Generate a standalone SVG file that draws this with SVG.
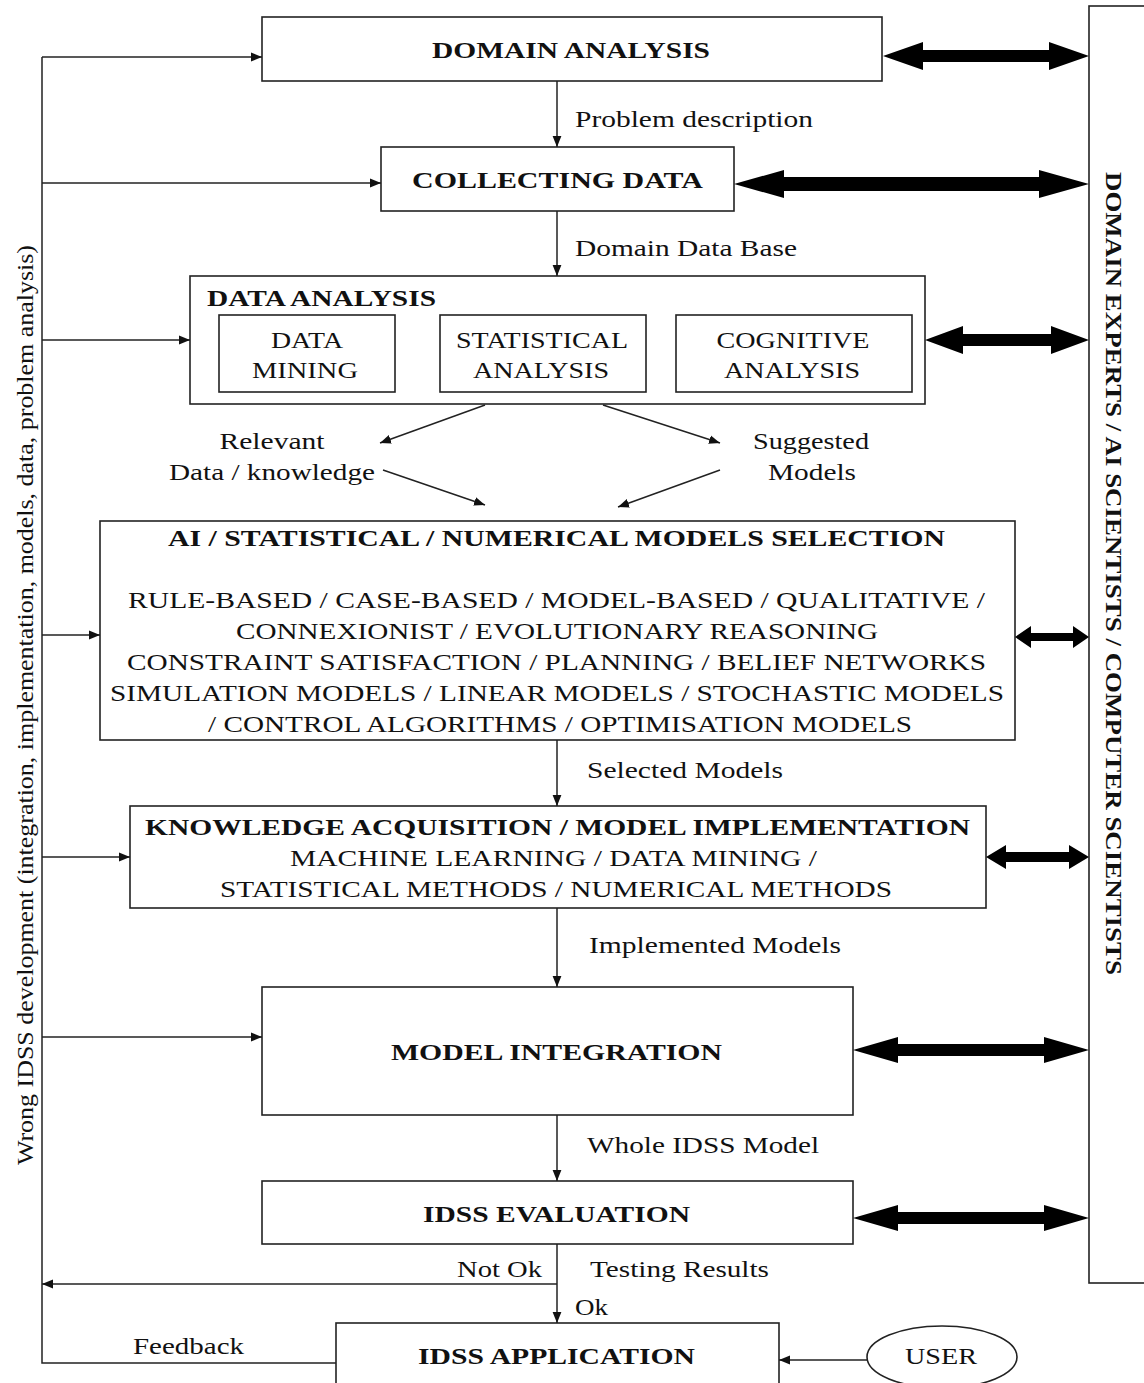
<svg xmlns="http://www.w3.org/2000/svg" width="1144" height="1383" viewBox="0 0 1144 1383">
<style>
.box{fill:#fff;stroke:#222;stroke-width:1.6}
.ln{fill:none;stroke:#222;stroke-width:1.5}
.thick{fill:#000;stroke:none}
.t{font-family:"Liberation Serif","Times New Roman",serif;font-size:24px;fill:#111}
.b{font-weight:bold}
.m{text-anchor:middle}
</style>
<defs>
<marker id="ah" viewBox="0 0 10 10" refX="10" refY="5" markerWidth="11" markerHeight="11" markerUnits="userSpaceOnUse" orient="auto">
<path d="M0,1 L10,5 L0,9 z" fill="#111"/>
</marker>
</defs>
<rect width="1144" height="1383" fill="#fff"/>

<g id="experts">
<rect class="box" x="1089" y="6" width="80" height="1277"/>
<text class="t b" transform="translate(1106,172) rotate(90)" textLength="803" lengthAdjust="spacingAndGlyphs">DOMAIN  EXPERTS  /  AI SCIENTISTS  /  COMPUTER  SCIENTISTS</text>
</g>

<g id="wrong-label">
<text class="t" transform="translate(33,1165) rotate(-90)" textLength="920" lengthAdjust="spacingAndGlyphs">Wrong IDSS development (integration, implementation, models, data, problem analysis)</text>
</g>

<g id="domain-analysis">
<rect class="box" x="262" y="17" width="620" height="64"/>
<text class="t b" x="432" y="58" textLength="278" lengthAdjust="spacingAndGlyphs">DOMAIN  ANALYSIS</text>
</g>

<g id="collecting-data">
<rect class="box" x="381" y="147" width="353" height="64"/>
<text class="t b" x="412" y="188" textLength="291" lengthAdjust="spacingAndGlyphs">COLLECTING  DATA</text>
</g>

<g id="data-analysis">
<rect class="box" x="190" y="276" width="735" height="128"/>
<text class="t b" x="207" y="306" textLength="229" lengthAdjust="spacingAndGlyphs">DATA ANALYSIS</text>
<rect class="box" x="219" y="315" width="176" height="77"/>
<text class="t m" x="307" y="348" textLength="72" lengthAdjust="spacingAndGlyphs">DATA</text>
<text class="t m" x="305" y="378" textLength="106" lengthAdjust="spacingAndGlyphs">MINING</text>
<rect class="box" x="440" y="315" width="206" height="77"/>
<text class="t m" x="542" y="348" textLength="172" lengthAdjust="spacingAndGlyphs">STATISTICAL</text>
<text class="t m" x="541" y="378" textLength="136" lengthAdjust="spacingAndGlyphs">ANALYSIS</text>
<rect class="box" x="676" y="315" width="236" height="77"/>
<text class="t m" x="793" y="348" textLength="153" lengthAdjust="spacingAndGlyphs">COGNITIVE</text>
<text class="t m" x="792" y="378" textLength="136" lengthAdjust="spacingAndGlyphs">ANALYSIS</text>
</g>

<g id="models-selection">
<rect class="box" x="100" y="521" width="915" height="219"/>
<text class="t b" x="168" y="546" textLength="777" lengthAdjust="spacingAndGlyphs">AI / STATISTICAL / NUMERICAL  MODELS  SELECTION</text>
<text class="t" x="128" y="608" textLength="857" lengthAdjust="spacingAndGlyphs">RULE-BASED  / CASE-BASED / MODEL-BASED / QUALITATIVE  /</text>
<text class="t" x="236" y="639" textLength="642" lengthAdjust="spacingAndGlyphs">CONNEXIONIST  / EVOLUTIONARY  REASONING</text>
<text class="t" x="127" y="670" textLength="859" lengthAdjust="spacingAndGlyphs">CONSTRAINT  SATISFACTION  / PLANNING  / BELIEF  NETWORKS</text>
<text class="t" x="110" y="701" textLength="894" lengthAdjust="spacingAndGlyphs">SIMULATION  MODELS  / LINEAR  MODELS  / STOCHASTIC MODELS</text>
<text class="t" x="208" y="732" textLength="704" lengthAdjust="spacingAndGlyphs">/ CONTROL ALGORITHMS  / OPTIMISATION  MODELS</text>
</g>

<g id="knowledge-acquisition">
<rect class="box" x="130" y="806" width="856" height="102"/>
<text class="t b" x="145" y="835" textLength="825" lengthAdjust="spacingAndGlyphs">KNOWLEDGE  ACQUISITION  / MODEL  IMPLEMENTATION</text>
<text class="t" x="290" y="866" textLength="527" lengthAdjust="spacingAndGlyphs">MACHINE  LEARNING  / DATA MINING  /</text>
<text class="t" x="220" y="897" textLength="672" lengthAdjust="spacingAndGlyphs">STATISTICAL  METHODS  / NUMERICAL  METHODS</text>
</g>

<g id="model-integration">
<rect class="box" x="262" y="987" width="591" height="128"/>
<text class="t b" x="391" y="1060" textLength="331" lengthAdjust="spacingAndGlyphs">MODEL  INTEGRATION</text>
</g>

<g id="idss-evaluation">
<rect class="box" x="262" y="1181" width="591" height="63"/>
<text class="t b" x="423" y="1222" textLength="267" lengthAdjust="spacingAndGlyphs">IDSS  EVALUATION</text>
</g>

<g id="idss-application">
<rect class="box" x="336" y="1323" width="443" height="70"/>
<text class="t b" x="418" y="1364" textLength="277" lengthAdjust="spacingAndGlyphs">IDSS  APPLICATION</text>
</g>

<g id="user">
<ellipse class="box" cx="942" cy="1357" rx="75" ry="31"/>
<text class="t m" x="941" y="1364" textLength="72" lengthAdjust="spacingAndGlyphs">USER</text>
</g>

<g id="connectors">
<path class="ln" d="M557,81 V147" marker-end="url(#ah)"/>
<path class="ln" d="M557,211 V276" marker-end="url(#ah)"/>
<path class="ln" d="M485,405 L380,443" marker-end="url(#ah)"/>
<path class="ln" d="M603,405 L720,443" marker-end="url(#ah)"/>
<path class="ln" d="M383,470 L485,505" marker-end="url(#ah)"/>
<path class="ln" d="M720,470 L618,507" marker-end="url(#ah)"/>
<path class="ln" d="M557,740 V806" marker-end="url(#ah)"/>
<path class="ln" d="M557,908 V987" marker-end="url(#ah)"/>
<path class="ln" d="M557,1115 V1181" marker-end="url(#ah)"/>
<path class="ln" d="M557,1244 V1323" marker-end="url(#ah)"/>
<path class="ln" d="M557,1284 H42" marker-end="url(#ah)"/>
<path class="ln" d="M336,1363 H42 V57"/>
<path class="ln" d="M42,57 H262" marker-end="url(#ah)"/>
<path class="ln" d="M42,183 H381" marker-end="url(#ah)"/>
<path class="ln" d="M42,340 H190" marker-end="url(#ah)"/>
<path class="ln" d="M42,635 H100" marker-end="url(#ah)"/>
<path class="ln" d="M42,857 H130" marker-end="url(#ah)"/>
<path class="ln" d="M42,1037 H262" marker-end="url(#ah)"/>
<path class="ln" d="M867,1360 H779" marker-end="url(#ah)"/>

<polygon class="thick" points="883,56 923,42 923,50 1049,50 1049,42 1089,56 1049,70 1049,62 923,62 923,70"/>
<polygon class="thick" points="734,184 784,170 784,177 1039,177 1039,170 1089,184 1039,198 1039,191 784,191 784,198"/>
<polygon class="thick" points="925,340 963,326 963,334 1051,334 1051,326 1089,340 1051,354 1051,346 963,346 963,354"/>
<polygon class="thick" points="1015,637 1031,626 1031,633 1073,633 1073,626 1089,637 1073,648 1073,641 1031,641 1031,648"/>
<polygon class="thick" points="986,857 1006,845 1006,852 1069,852 1069,845 1089,857 1069,869 1069,862 1006,862 1006,869"/>
<polygon class="thick" points="853,1050 898,1037 898,1044 1044,1044 1044,1037 1089,1050 1044,1063 1044,1056 898,1056 898,1063"/>
<polygon class="thick" points="853,1218 898,1205 898,1212 1044,1212 1044,1205 1089,1218 1044,1231 1044,1224 898,1224 898,1231"/>

<text class="t" x="575" y="127" textLength="238" lengthAdjust="spacingAndGlyphs">Problem description</text>
<text class="t" x="575" y="256" textLength="222" lengthAdjust="spacingAndGlyphs">Domain Data Base</text>
<text class="t m" x="272" y="449" textLength="105" lengthAdjust="spacingAndGlyphs">Relevant</text>
<text class="t m" x="272" y="480" textLength="206" lengthAdjust="spacingAndGlyphs">Data / knowledge</text>
<text class="t m" x="811" y="449" textLength="116" lengthAdjust="spacingAndGlyphs">Suggested</text>
<text class="t m" x="812" y="480" textLength="88" lengthAdjust="spacingAndGlyphs">Models</text>
<text class="t" x="587" y="778" textLength="196" lengthAdjust="spacingAndGlyphs">Selected Models</text>
<text class="t" x="589" y="953" textLength="252" lengthAdjust="spacingAndGlyphs">Implemented  Models</text>
<text class="t" x="587" y="1153" textLength="232" lengthAdjust="spacingAndGlyphs">Whole IDSS Model</text>
<text class="t" x="457" y="1277" textLength="85" lengthAdjust="spacingAndGlyphs">Not Ok</text>
<text class="t" x="590" y="1277" textLength="179" lengthAdjust="spacingAndGlyphs">Testing Results</text>
<text class="t" x="575" y="1315" textLength="33" lengthAdjust="spacingAndGlyphs">Ok</text>
<text class="t" x="133" y="1354" textLength="111" lengthAdjust="spacingAndGlyphs">Feedback</text>
</g>
</svg>
